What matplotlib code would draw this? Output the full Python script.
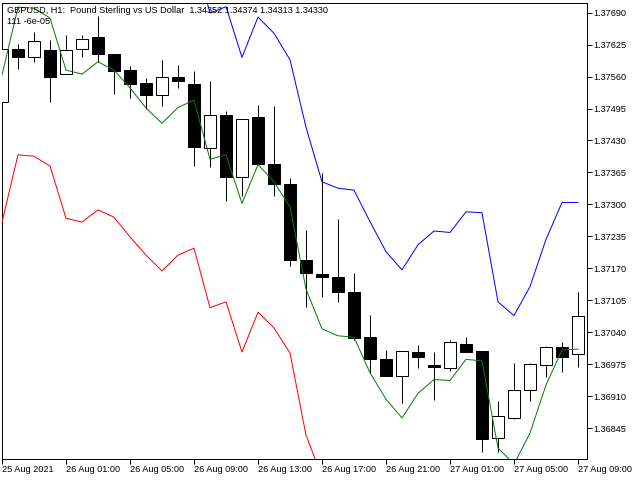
import matplotlib
matplotlib.use("Agg")
import matplotlib.pyplot as plt
import numpy as np

plt.rcParams['font.family'] = ['Liberation Sans', 'DejaVu Sans']

# GBPUSD H1 bars, 25 Aug 21:00 .. 27 Aug 09:00
opens = [1.37508, 1.37617, 1.37599, 1.37613, 1.37565, 1.37615, 1.37640, 1.37606, 1.37573, 1.37547,
         1.37523, 1.37560, 1.37545, 1.37414, 1.37482, 1.37356, 1.37478, 1.37382, 1.37342, 1.37187,
         1.37159, 1.37152, 1.37122, 1.37030, 1.36986, 1.36952, 1.37000, 1.36974, 1.36968, 1.37016,
         1.37002, 1.36825, 1.36865, 1.36922, 1.36973, 1.37010, 1.36995]
highs = [1.37615, 1.37626, 1.37651, 1.37634, 1.37644, 1.37644, 1.37683, 1.37606, 1.37581, 1.37558,
         1.37594, 1.37583, 1.37572, 1.37550, 1.37490, 1.37474, 1.37502, 1.37500, 1.37353, 1.37248,
         1.37363, 1.37270, 1.37161, 1.37075, 1.37004, 1.37002, 1.37014, 1.37000, 1.37024, 1.37031,
         1.37002, 1.36901, 1.36977, 1.36978, 1.37012, 1.37020, 1.37123]
lows = [1.37508, 1.37575, 1.37590, 1.37508, 1.37565, 1.37600, 1.37590, 1.37525, 1.37516, 1.37493,
        1.37501, 1.37537, 1.37378, 1.37376, 1.37308, 1.37318, 1.37382, 1.37317, 1.37175, 1.37092,
        1.37112, 1.37102, 1.37024, 1.36957, 1.36952, 1.36897, 1.36967, 1.36902, 1.36962, 1.37001,
        1.36797, 1.36797, 1.36863, 1.36901, 1.36950, 1.36960, 1.36970]
closes = [1.37615, 1.37600, 1.37632, 1.37560, 1.37613, 1.37636, 1.37605, 1.37572, 1.37545, 1.37523,
          1.37560, 1.37550, 1.37417, 1.37481, 1.37355, 1.37474, 1.37382, 1.37341, 1.37188, 1.37160,
          1.37152, 1.37121, 1.37029, 1.36986, 1.36952, 1.37002, 1.36990, 1.36970, 1.37020, 1.37001,
          1.36823, 1.36869, 1.36923, 1.36976, 1.37010, 1.36990, 1.37074]

# indicator lines
middle = [1.37563, 1.37701, 1.37699, 1.37679, 1.37573, 1.37565, 1.37590, 1.37573, 1.37537, 1.37496,
          1.37465, 1.37497, 1.37512, 1.37392, 1.37401, 1.37302, 1.37381, 1.37346, 1.37295, 1.37128,
          1.37047, 1.37033, 1.37030, 1.36958, 1.36904, 1.36866, 1.36916, 1.36944, 1.36942, 1.36985,
          1.36982, 1.36805, 1.36772, 1.36835, 1.36933, 1.37004, 1.37006]
upper = [1.37863, 1.38001, 1.37999, 1.37979, 1.37873, 1.37865, 1.37890, 1.37873, 1.37837, 1.37796,
         1.37765, 1.37797, 1.37812, 1.37689, 1.37702, 1.37599, 1.37681, 1.37648, 1.37594, 1.37457,
         1.37346, 1.37333, 1.37329, 1.37265, 1.37204, 1.37167, 1.37218, 1.37246, 1.37243, 1.37285,
         1.37283, 1.37102, 1.37074, 1.37133, 1.37229, 1.37304, 1.37304]
lower = [1.37264, 1.37401, 1.37398, 1.37378, 1.37272, 1.37264, 1.37289, 1.37274, 1.37234, 1.37197,
         1.37165, 1.37197, 1.37211, 1.37090, 1.37102, 1.37000, 1.37081, 1.37049, 1.36998, 1.36831,
         1.36746, 1.36733, 1.36730, 1.36658, 1.36604, 1.36566, 1.36616, 1.36644, 1.36642, 1.36685,
         1.36682, 1.36505, 1.36472, 1.36535, 1.36633, 1.36704, 1.36706]

ytick_vals = [1.37690, 1.37625, 1.37560, 1.37495, 1.37430, 1.37365, 1.37300, 1.37235,
              1.37170, 1.37105, 1.37040, 1.36975, 1.36910, 1.36845]
xtick_labels = ["25 Aug 2021", "26 Aug 01:00", "26 Aug 05:00", "26 Aug 09:00", "26 Aug 13:00",
                "26 Aug 17:00", "26 Aug 21:00", "27 Aug 01:00", "27 Aug 05:00", "27 Aug 09:00"]

title = "GBPUSD, H1:  Pound Sterling vs US Dollar  1.34352 1.34374 1.34313 1.34330"
subtitle = "111 -6e-05"

o = np.array(opens); h = np.array(highs); l = np.array(lows); c = np.array(closes)
x = np.arange(len(o))

fig = plt.figure(figsize=(6.4, 4.8), dpi=100)
ax = fig.add_axes([2 / 640, 21 / 480, 585 / 640, 456 / 480])

lw = 0.72
ax.vlines(x, l, h, color='black', linewidth=lw, zorder=2)
bull = c >= o
ax.bar(x, np.abs(c - o), bottom=np.minimum(o, c), width=0.69,
       color=np.where(bull, 'white', 'black'), edgecolor='black', linewidth=lw, zorder=3)

ax.plot(x, upper, color='#0000FF', linewidth=lw, zorder=4)
ax.plot(x, lower, color='#FF0000', linewidth=lw, zorder=4)
ax.plot(x, middle, color='#008000', linewidth=lw, zorder=5)

ax.set_xlim(0, 36.5625)
ax.set_ylim(1.367825, 1.377095)

ax.yaxis.tick_right()
ax.set_yticks(ytick_vals)
ax.set_yticklabels([f"{v:.5f}" for v in ytick_vals])
ax.set_xticks(x[::4])
ax.set_xticklabels(xtick_labels)
for t in ax.get_xticklabels():
    t.set_ha('left')
ax.tick_params(axis='both', direction='out', length=3.6, width=lw, labelsize=6.6, pad=1, colors='black')
ax.tick_params(axis='x', pad=0.5)

for s in ax.spines.values():
    s.set_linewidth(lw)
    s.set_color('black')

fig.text(7 / 640, 1 - 12.7 / 480, title, fontsize=6.6, va='baseline', ha='left')
fig.text(7 / 640, 1 - 24 / 480, subtitle, fontsize=6.6, va='baseline', ha='left')

fig.savefig("out.png", dpi=100, facecolor='white')
